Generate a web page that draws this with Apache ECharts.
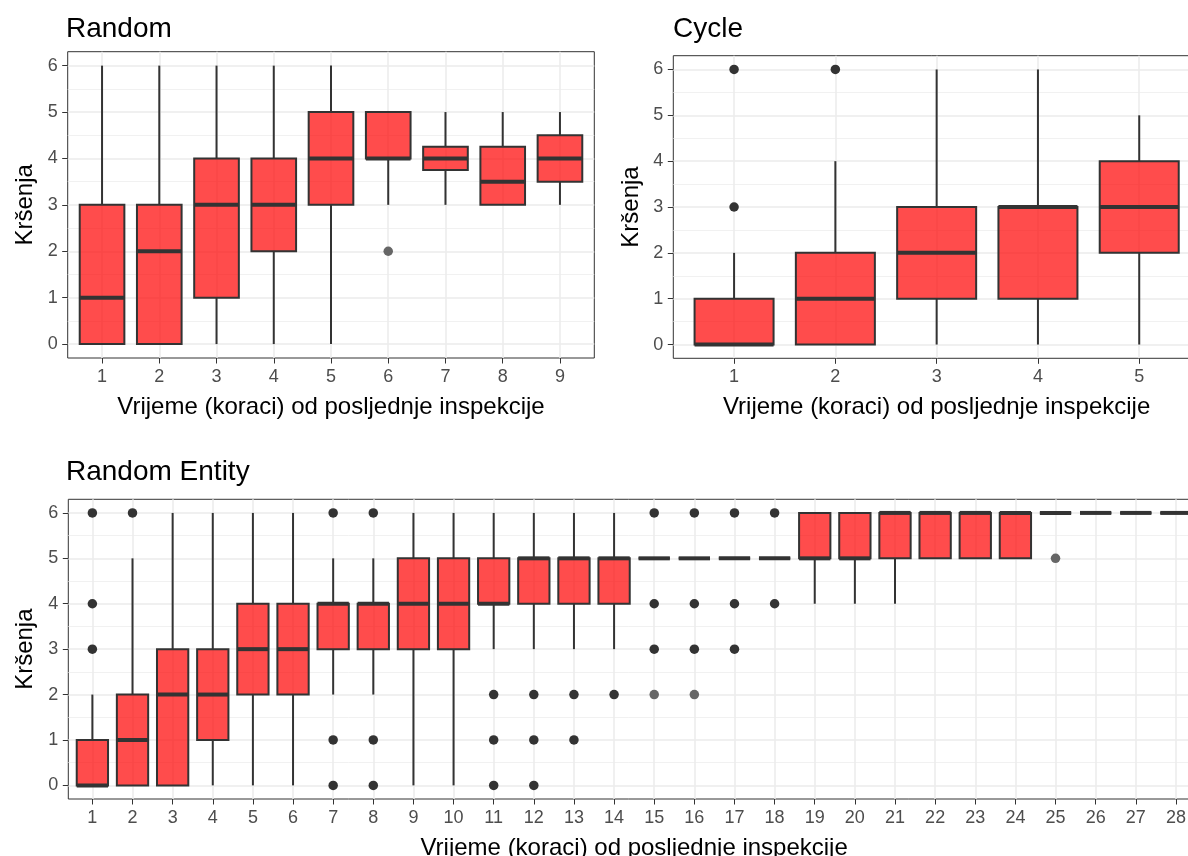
<!DOCTYPE html>
<html>
<head>
<meta charset="utf-8">
<script src="https://cdn.jsdelivr.net/npm/echarts@6/dist/echarts.min.js"></script>
<style>
html,body{margin:0;padding:0;background:#ffffff;}
#c{width:1188px;height:856px;}
</style>
</head>
<body>
<div id="c"></div>
<script>
// ---------------- DATA ----------------
const xTitle = 'Vrijeme (koraci) od posljednje inspekcije';
const yTitle = 'Kršenja';

// Random panel: [min, Q1, median, Q3, max]
const randomCats = ['1','2','3','4','5','6','7','8','9'];
const randomStats = [
  [0, 0, 1, 3, 6],
  [0, 0, 2, 3, 6],
  [0, 1, 3, 4, 6],
  [0, 2, 3, 4, 6],
  [0, 3, 4, 5, 6],
  [3, 4, 4, 5, 5],
  [3, 3.75, 4, 4.25, 5],
  [3, 3, 3.5, 4.25, 5],
  [3, 3.5, 4, 4.5, 5]
];
const randomOutliersDark = [];
const randomOutliersLight = [['6', 2]];

// Cycle panel
const cycleCats = ['1','2','3','4','5'];
const cycleStats = [
  [0, 0, 0, 1, 2],
  [0, 0, 1, 2, 4],
  [0, 1, 2, 3, 6],
  [0, 1, 3, 3, 6],
  [0, 2, 3, 4, 5]
];
const cycleOutliersDark = [['1', 3], ['1', 6], ['2', 6]];
const cycleOutliersLight = [];

// Random Entity panel
const entityCats = ['1','2','3','4','5','6','7','8','9','10','11','12','13','14',
  '15','16','17','18','19','20','21','22','23','24','25','26','27','28'];
const entityStats = [
  [0, 0, 0, 1, 2],
  [0, 0, 1, 2, 5],
  [0, 0, 2, 3, 6],
  [0, 1, 2, 3, 6],
  [0, 2, 3, 4, 6],
  [0, 2, 3, 4, 6],
  [2, 3, 4, 4, 5],
  [2, 3, 4, 4, 5],
  [0, 3, 4, 5, 6],
  [0, 3, 4, 5, 6],
  [3, 4, 4, 5, 6],
  [3, 4, 5, 5, 6],
  [3, 4, 5, 5, 6],
  [3, 4, 5, 5, 6],
  [5, 5, 5, 5, 5],
  [5, 5, 5, 5, 5],
  [5, 5, 5, 5, 5],
  [5, 5, 5, 5, 5],
  [4, 5, 5, 6, 6],
  [4, 5, 5, 6, 6],
  [4, 5, 6, 6, 6],
  [5, 5, 6, 6, 6],
  [5, 5, 6, 6, 6],
  [5, 5, 6, 6, 6],
  [6, 6, 6, 6, 6],
  [6, 6, 6, 6, 6],
  [6, 6, 6, 6, 6],
  [6, 6, 6, 6, 6]
];
const entityOutliersDark = [
  ['1', 3], ['1', 4], ['1', 6], ['2', 6],
  ['7', 0], ['7', 1], ['7', 6], ['8', 0], ['8', 1], ['8', 6],
  ['11', 0], ['11', 1], ['11', 2], ['12', 0], ['12', 1], ['12', 2],
  ['13', 1], ['13', 2], ['14', 2],
  ['15', 3], ['15', 4], ['15', 6], ['16', 3], ['16', 4], ['16', 6],
  ['17', 3], ['17', 4], ['17', 6], ['18', 4], ['18', 6]
];
const entityOutliersLight = [['15', 2], ['16', 2], ['25', 5]];

const yTickMin = 0, yTickMax = 6, yTickStep = 1;

// ---------------- LAYOUT / STYLE ----------------
const FONT = "'Liberation Sans', Arial, Helvetica, sans-serif";
const Y_MIN = -0.3, Y_MAX = 6.3;      // ggplot 5% expansion
const X_EXPAND = 0.6;                 // ggplot discrete expansion (units)
const BOX_RATIO = 0.78;

const panels = [
  { title: 'Random', cats: randomCats, stats: randomStats, dark: randomOutliersDark, light: randomOutliersLight,
    left: 67.7, top: 51.7, width: 526.6, height: 306.3, titleLeft: 66, titleTop: 15 },
  { title: 'Cycle', cats: cycleCats, stats: cycleStats, dark: cycleOutliersDark, light: cycleOutliersLight,
    left: 673.3, top: 55.7, width: 526.7, height: 302.6, titleLeft: 673, titleTop: 15 },
  { title: 'Random Entity', cats: entityCats, stats: entityStats, dark: entityOutliersDark, light: entityOutliersLight,
    left: 68.3, top: 499.3, width: 1131.7, height: 299.7, titleLeft: 66, titleTop: 458 }
];

function renderBox(params, api) {
  const x = api.value(0);
  const lo = api.coord([x, api.value(1)]);
  const q1 = api.coord([x, api.value(2)]);
  const md = api.coord([x, api.value(3)]);
  const q3 = api.coord([x, api.value(4)]);
  const hi = api.coord([x, api.value(5)]);
  const bw = api.size([1, 0])[0] * BOX_RATIO;
  const cx = md[0];
  const stroke = '#333333';
  return {
    type: 'group',
    children: [
      { type: 'line', shape: { x1: cx, y1: lo[1], x2: cx, y2: q1[1] }, style: { stroke: stroke, lineWidth: 2 } },
      { type: 'line', shape: { x1: cx, y1: q3[1], x2: cx, y2: hi[1] }, style: { stroke: stroke, lineWidth: 2 } },
      { type: 'rect', shape: { x: cx - bw / 2, y: q3[1], width: bw, height: q1[1] - q3[1] },
        style: { fill: 'rgba(255,0,0,0.7)', stroke: stroke, lineWidth: 2 } },
      { type: 'line', shape: { x1: cx - bw / 2, y1: md[1], x2: cx + bw / 2, y2: md[1] },
        style: { stroke: stroke, lineWidth: 4 } }
    ]
  };
}

const option = {
  animation: false,
  backgroundColor: '#ffffff',
  textStyle: { fontFamily: FONT },
  title: [], grid: [], xAxis: [], yAxis: [], series: []
};

panels.forEach((p, k) => {
  const unit = p.height / (Y_MAX - Y_MIN);
  const n = p.cats.length;
  const step = p.width / (n - 1 + 2 * X_EXPAND);
  const base = option.grid.length;
  const gFrame = base, gY = base + 1, gData = base + 2;

  option.title.push({
    text: p.title, left: p.titleLeft, top: p.titleTop, padding: 0,
    textStyle: { fontSize: 28, fontWeight: 'normal', color: '#000000', fontFamily: FONT }
  });
  // frame (panel border)
  option.grid.push({
    left: p.left, top: p.top, width: p.width, height: p.height, outerBoundsMode: 'none', containLabel: false,
    show: true, borderColor: '#333333', borderWidth: 1, backgroundColor: 'transparent'
  });
  // grid for y labels + horizontal grid lines (y 0..6, full panel width)
  option.grid.push({
    left: p.left, top: p.top + (Y_MAX - yTickMax) * unit, outerBoundsMode: 'none', containLabel: false,
    width: p.width, height: (yTickMax - yTickMin) * unit, show: false
  });
  // grid for data (category centres inset like ggplot)
  option.grid.push({
    left: p.left + (X_EXPAND - 0.5) * step, top: p.top, width: n * step, height: p.height,
    outerBoundsMode: 'none', containLabel: false, show: false
  });

  // frame axes (hidden)
  option.xAxis.push({ type: 'value', gridIndex: gFrame, show: false, min: 0, max: 1 });
  option.yAxis.push({ type: 'value', gridIndex: gFrame, show: false, min: 0, max: 1 });

  // y label grid axes
  option.xAxis.push({ type: 'value', gridIndex: gY, show: false, min: 0, max: 1 });
  option.yAxis.push({
    type: 'value', gridIndex: gY, min: yTickMin, max: yTickMax, interval: yTickStep,
    axisLine: { show: false },
    axisTick: { show: true, length: 5.5, lineStyle: { color: '#333333', width: 1 } },
    axisLabel: { margin: 10, color: '#4d4d4d', fontSize: 18, fontFamily: FONT },
    splitLine: { show: true, lineStyle: { color: '#ebebeb', width: 1.5 } },
    minorTick: { show: false, splitNumber: 2 },
    minorSplitLine: { show: true, lineStyle: { color: '#eeeeee', width: 0.8 } },
    name: yTitle, nameLocation: 'middle', nameGap: 30,
    nameTextStyle: { fontSize: 24, color: '#000000', fontFamily: FONT }
  });

  // data grid axes: vertical grid lines via long inside ticks
  option.xAxis.push({
    type: 'category', gridIndex: gData, data: p.cats, position: 'bottom',
    axisLine: { show: false, onZero: false }, axisLabel: { show: false }, splitLine: { show: false },
    axisTick: { show: true, inside: true, alignWithLabel: true, interval: 0, length: p.height,
      lineStyle: { color: '#ebebeb', width: 1.5 } }
  });
  const xi = option.xAxis.length;
  option.xAxis.push({
    type: 'category', gridIndex: gData, data: p.cats, position: 'bottom',
    axisLine: { show: false, onZero: false }, splitLine: { show: false },
    axisTick: { show: true, alignWithLabel: true, interval: 0, length: 5.5, lineStyle: { color: '#333333', width: 1 } },
    axisLabel: { interval: 0, margin: 10, color: '#4d4d4d', fontSize: 18, fontFamily: FONT },
    name: xTitle, nameLocation: 'middle', nameGap: 37,
    nameTextStyle: { fontSize: 24, color: '#000000', fontFamily: FONT }
  });
  const yi = option.yAxis.length;
  option.yAxis.push({ type: 'value', gridIndex: gData, min: Y_MIN, max: Y_MAX, show: false });

  option.series.push({
    type: 'scatter', xAxisIndex: xi, yAxisIndex: yi, data: p.dark, symbolSize: 9.5,
    itemStyle: { color: '#333333', opacity: 1 }, z: 2, silent: true
  });
  option.series.push({
    type: 'scatter', xAxisIndex: xi, yAxisIndex: yi, data: p.light, symbolSize: 9.5,
    itemStyle: { color: '#666666', opacity: 1 }, z: 2, silent: true
  });
  option.series.push({
    type: 'custom', xAxisIndex: xi, yAxisIndex: yi,
    data: p.stats.map((s, i) => [p.cats[i], s[0], s[1], s[2], s[3], s[4]]),
    encode: { x: 0, y: [1, 2, 3, 4, 5] },
    renderItem: renderBox, z: 3, silent: true
  });
});

const chart = echarts.init(document.getElementById('c'), null, { renderer: 'canvas' });
chart.setOption(option);
</script>
</body>
</html>
